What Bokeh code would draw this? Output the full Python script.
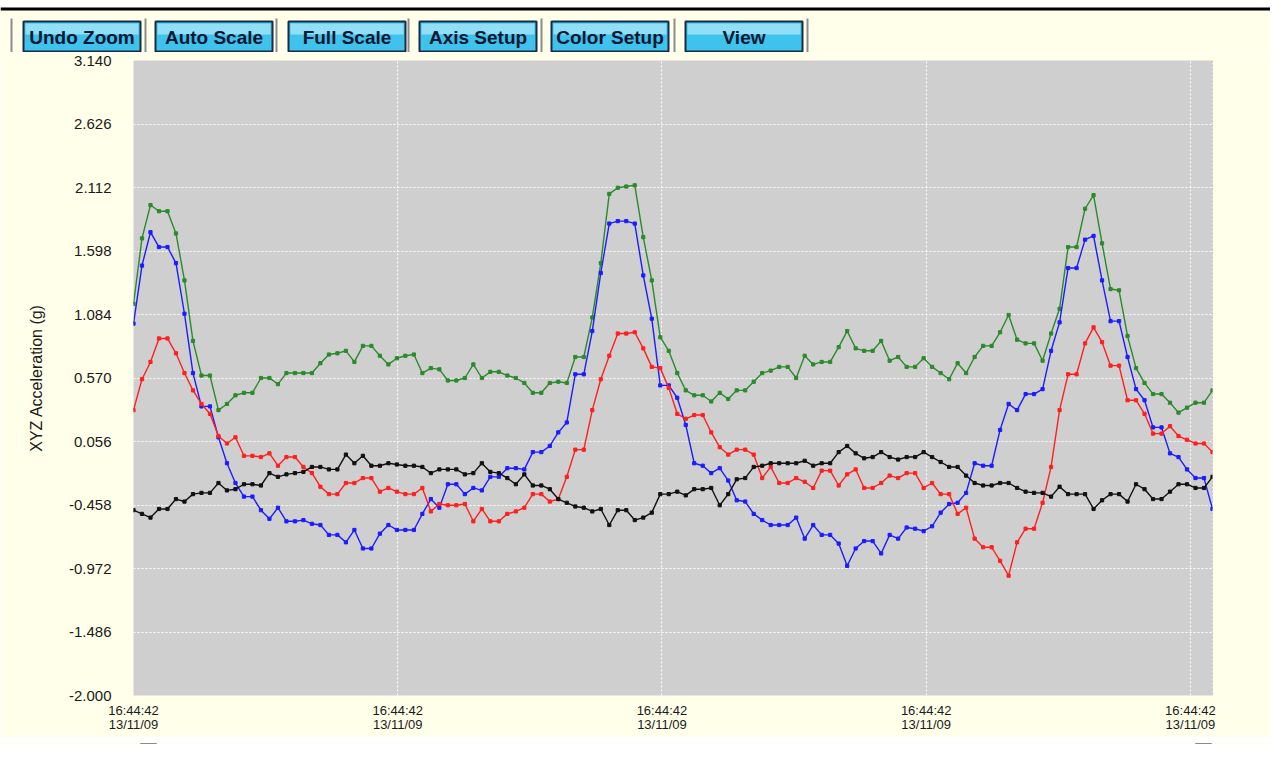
from bokeh.plotting import figure
from bokeh.layouts import column
from bokeh.models import Range1d, FixedTicker, NumeralTickFormatter, Span
from bokeh.core.properties import value
from bokeh.embed import file_html
from bokeh.resources import INLINE

# ---------------- data ----------------
sample_index = list(range(128))

green_z = [1.17, 1.70, 1.97, 1.92, 1.92, 1.74, 1.36, 0.87, 0.59, 0.59,
           0.31, 0.36, 0.43, 0.45, 0.45, 0.57, 0.57, 0.52, 0.61, 0.61,
           0.61, 0.61, 0.69, 0.76, 0.77, 0.79, 0.70, 0.83, 0.83, 0.75,
           0.68, 0.73, 0.75, 0.76, 0.61, 0.65, 0.64, 0.55, 0.55, 0.57,
           0.68, 0.57, 0.62, 0.62, 0.59, 0.57, 0.53, 0.45, 0.45, 0.53,
           0.54, 0.53, 0.74, 0.74, 1.06, 1.50, 2.06, 2.11, 2.12, 2.13,
           1.71, 1.36, 0.90, 0.79, 0.61, 0.47, 0.43, 0.43, 0.38, 0.45,
           0.40, 0.47, 0.47, 0.54, 0.61, 0.63, 0.66, 0.66, 0.57, 0.75,
           0.68, 0.70, 0.70, 0.82, 0.95, 0.81, 0.79, 0.79, 0.87, 0.71,
           0.74, 0.66, 0.66, 0.73, 0.66, 0.61, 0.56, 0.69, 0.61, 0.74,
           0.83, 0.83, 0.94, 1.08, 0.88, 0.85, 0.85, 0.71, 0.93, 1.13,
           1.63, 1.63, 1.94, 2.05, 1.66, 1.29, 1.28, 0.91, 0.65, 0.53,
           0.44, 0.44, 0.37, 0.29, 0.33, 0.37, 0.37, 0.47]

blue_x = [1.01, 1.48, 1.75, 1.63, 1.63, 1.50, 1.09, 0.61, 0.34, 0.34,
          0.09, -0.12, -0.28, -0.39, -0.39, -0.50, -0.57, -0.48, -0.59, -0.59,
          -0.58, -0.61, -0.62, -0.70, -0.70, -0.76, -0.66, -0.81, -0.81, -0.69,
          -0.62, -0.66, -0.66, -0.66, -0.53, -0.41, -0.48, -0.29, -0.29, -0.37,
          -0.32, -0.34, -0.23, -0.23, -0.16, -0.16, -0.17, -0.03, -0.03, 0.02,
          0.13, 0.21, 0.60, 0.60, 0.95, 1.42, 1.82, 1.84, 1.84, 1.82,
          1.40, 1.05, 0.51, 0.51, 0.41, 0.19, -0.12, -0.14, -0.20, -0.16,
          -0.26, -0.42, -0.43, -0.53, -0.58, -0.62, -0.62, -0.62, -0.56, -0.73,
          -0.62, -0.70, -0.70, -0.77, -0.95, -0.81, -0.75, -0.75, -0.85, -0.70,
          -0.73, -0.64, -0.65, -0.67, -0.63, -0.52, -0.45, -0.44, -0.36, -0.12,
          -0.14, -0.14, 0.15, 0.36, 0.31, 0.44, 0.44, 0.48, 0.79, 1.02,
          1.46, 1.46, 1.69, 1.72, 1.36, 1.03, 1.03, 0.74, 0.48, 0.39,
          0.17, 0.17, -0.04, -0.07, -0.17, -0.24, -0.24, -0.49]

red_y = [0.31, 0.56, 0.70, 0.89, 0.89, 0.77, 0.61, 0.47, 0.36, 0.28,
         0.10, 0.04, 0.09, -0.06, -0.06, -0.07, -0.04, -0.14, -0.07, -0.07,
         -0.15, -0.20, -0.31, -0.37, -0.37, -0.28, -0.28, -0.24, -0.24, -0.35,
         -0.32, -0.35, -0.37, -0.37, -0.32, -0.51, -0.45, -0.46, -0.46, -0.45,
         -0.59, -0.49, -0.59, -0.59, -0.53, -0.51, -0.48, -0.37, -0.37, -0.43,
         -0.41, -0.23, -0.01, -0.01, 0.31, 0.56, 0.75, 0.93, 0.93, 0.94,
         0.81, 0.66, 0.65, 0.49, 0.28, 0.24, 0.27, 0.27, 0.13, 0.01,
         -0.05, -0.01, -0.01, -0.05, -0.24, -0.15, -0.28, -0.28, -0.24, -0.27,
         -0.32, -0.18, -0.18, -0.30, -0.21, -0.17, -0.32, -0.32, -0.28, -0.22,
         -0.24, -0.20, -0.20, -0.32, -0.28, -0.37, -0.37, -0.53, -0.48, -0.73,
         -0.80, -0.80, -0.91, -1.03, -0.76, -0.65, -0.65, -0.44, -0.15, 0.31,
         0.60, 0.60, 0.85, 0.98, 0.86, 0.67, 0.67, 0.39, 0.39, 0.28,
         0.12, 0.12, 0.18, 0.10, 0.07, 0.04, 0.04, -0.03]

black_t = [-0.50, -0.53, -0.56, -0.49, -0.49, -0.41, -0.43, -0.37, -0.36, -0.36,
           -0.28, -0.34, -0.33, -0.29, -0.29, -0.30, -0.20, -0.23, -0.21, -0.20,
           -0.19, -0.15, -0.15, -0.17, -0.17, -0.05, -0.12, -0.06, -0.14, -0.14,
           -0.12, -0.13, -0.14, -0.14, -0.15, -0.20, -0.17, -0.17, -0.17, -0.21,
           -0.20, -0.12, -0.19, -0.20, -0.24, -0.29, -0.21, -0.30, -0.30, -0.33,
           -0.41, -0.44, -0.47, -0.48, -0.51, -0.49, -0.62, -0.50, -0.50, -0.58,
           -0.56, -0.52, -0.37, -0.37, -0.35, -0.38, -0.33, -0.33, -0.32, -0.46,
           -0.37, -0.25, -0.24, -0.15, -0.14, -0.12, -0.12, -0.12, -0.12, -0.10,
           -0.14, -0.12, -0.12, -0.03, 0.02, -0.04, -0.08, -0.07, -0.03, -0.07,
           -0.09, -0.07, -0.07, -0.03, -0.07, -0.11, -0.15, -0.15, -0.22, -0.28,
           -0.30, -0.30, -0.28, -0.28, -0.32, -0.35, -0.36, -0.36, -0.39, -0.31,
           -0.37, -0.37, -0.37, -0.49, -0.42, -0.37, -0.37, -0.43, -0.29, -0.33,
           -0.41, -0.41, -0.35, -0.29, -0.29, -0.32, -0.32, -0.23]

y_ticks = [3.140, 2.626, 2.112, 1.598, 1.084, 0.570, 0.056, -0.458, -0.972, -1.486, -2.000]
x_tick_positions = [0, 31.1, 62.2, 93.3, 124.4]
x_tick_labels = ["16:44:42\n13/11/09"] * 5
y_axis_title = "XYZ Acceleration (g)"
button_labels = ["Undo Zoom", "Auto Scale", "Full Scale", "Axis Setup", "Color Setup", "View"]

# ---------------- style ----------------
FONT = "Liberation Sans"
CREAM = "#ffffea"
W = 1270
TOP_H = 52
MAIN_H = 685
BOT_H = 7


def strip(height):
    f = figure(width=W, height=height, output_backend="svg", toolbar_location=None,
               x_range=Range1d(0, W), y_range=Range1d(height, 0),
               x_axis_type=None, y_axis_type=None,
               min_border_left=0, min_border_right=0, min_border_top=0, min_border_bottom=0)
    f.background_fill_color = CREAM
    f.border_fill_color = CREAM
    f.outline_line_color = None
    f.xgrid.visible = False
    f.ygrid.visible = False
    f.frame_align = False
    return f


# ---------------- toolbar strip (buttons) ----------------
top = strip(TOP_H)
button_left = [23, 155, 288, 419, 551, 685]
button_width = 117
btn_top, btn_bottom = 21, 51
separator_x = [10, 144, 275, 407, 540, 673, 806]

top.quad(left=[0], right=[W], top=[0], bottom=[7], fill_color="white", line_color=None)
top.quad(left=[0], right=[W], top=[7], bottom=[10], fill_color="black", line_color=None)
top.quad(left=separator_x, right=[x + 2 for x in separator_x], top=[18] * len(separator_x),
         bottom=[54] * len(separator_x), fill_color="#8c8c8c", line_color=None)
button_right = [x + button_width for x in button_left]
top.quad(left=button_left, right=button_right, top=[btn_top] * 6, bottom=[btn_bottom] * 6,
         fill_color="#3fc2ec", line_color="#1b2a44", line_width=2)
top.quad(left=[x + 2 for x in button_left], right=[x - 2 for x in button_right],
         top=[btn_top + 2] * 6, bottom=[btn_top + 13] * 6, fill_color="#8fe0f6", line_color=None)
top.text(x=[(a + b) / 2 for a, b in zip(button_left, button_right)], y=[36.5] * 6, text=button_labels,
         text_align="center", text_baseline="middle", text_font=value(FONT),
         text_font_style="bold", text_font_size="19px", text_color="#0b1733")

# ---------------- main chart ----------------
p = figure(width=W, height=MAIN_H, output_backend="svg", toolbar_location=None,
           x_range=Range1d(0, 127), y_range=Range1d(-2.0, 3.14),
           min_border_left=133, min_border_right=58, min_border_top=8, min_border_bottom=42)
p.frame_align = False
p.background_fill_color = "#cfcfcf"
p.border_fill_color = CREAM
p.outline_line_color = None

for ax in (p.xaxis, p.yaxis):
    ax.axis_line_color = None
    ax.major_tick_line_color = None
    ax.minor_tick_line_color = None
    ax.major_label_text_font = FONT
    ax.major_label_text_color = "#1a1a1a"

p.yaxis.ticker = FixedTicker(ticks=y_ticks)
p.yaxis.formatter = NumeralTickFormatter(format="0.000")
p.yaxis.major_label_text_font_size = "15px"
p.yaxis.major_label_standoff = 16
p.yaxis.axis_label = y_axis_title
p.yaxis.axis_label_text_font = FONT
p.yaxis.axis_label_text_font_size = "16px"
p.yaxis.axis_label_text_font_style = "normal"
p.yaxis.axis_label_text_color = "#1a1a1a"
p.yaxis.axis_label_standoff = 21

p.xaxis.ticker = FixedTicker(ticks=x_tick_positions)
p.xaxis.major_label_overrides = dict(zip(x_tick_positions, x_tick_labels))
p.xaxis.major_label_text_font_size = "13px"
p.xaxis.major_label_text_line_height = 0.95
p.xaxis.major_label_standoff = 1

for g in (p.xgrid, p.ygrid):
    g.grid_line_color = "white"
    g.grid_line_dash = "2 2"
    g.grid_line_width = 1
    g.grid_line_alpha = 1

p.add_layout(Span(location=127, dimension="height", line_color="#9a9a9a",
                  line_dash="2 2", line_width=1))

series = [(green_z, "#2b8a2b"), (blue_x, "#1c1cff"), (red_y, "#ff1f1f"), (black_t, "#111111")]
for vals, col in series:
    p.line(sample_index, vals, line_color=col, line_width=1.4)
    p.scatter(sample_index, vals, marker="square", size=3.2, fill_color=col, line_color=col)

# ---------------- bottom scroll strip ----------------
bot = strip(BOT_H)
bot.quad(left=[148], right=[1212], top=[0], bottom=[BOT_H], fill_color="white", line_color=None)
bot.quad(left=[140, 1195], right=[156, 1211], top=[1, 1], bottom=[BOT_H + 2] * 2,
         fill_color="#fbfbf2", line_color="#8a8a8a", line_width=1)

layout = column(top, p, bot, spacing=0)
open("out.html", "w").write(file_html(layout, INLINE))
